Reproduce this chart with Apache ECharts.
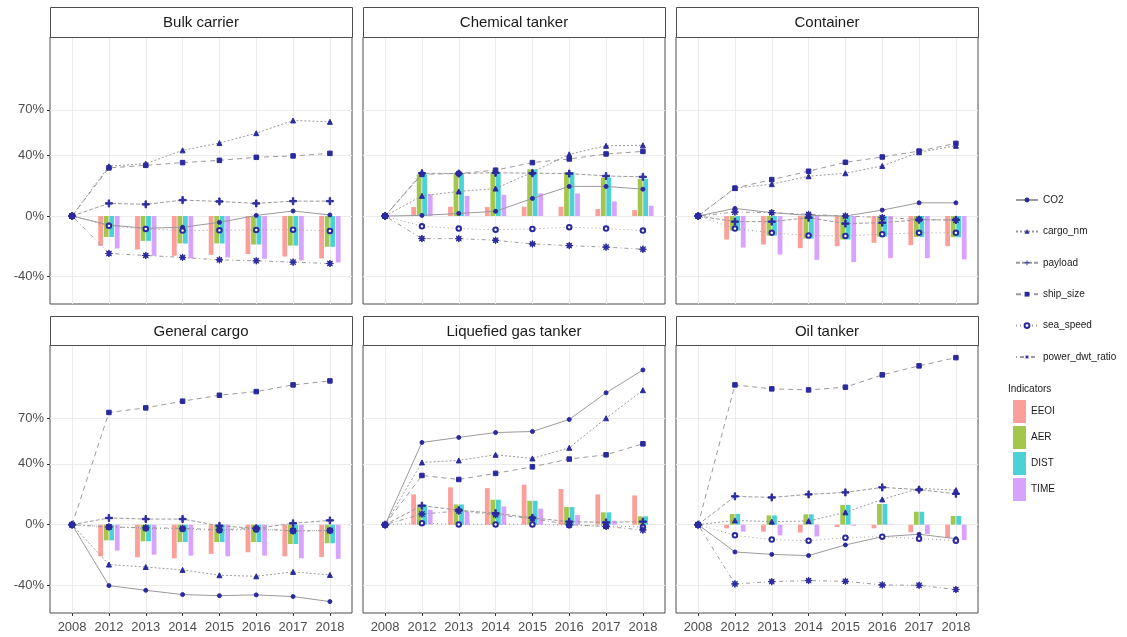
<!DOCTYPE html>
<html><head><meta charset="utf-8">
<script src="https://cdn.jsdelivr.net/npm/echarts@6/dist/echarts.min.js"></script>
<style>html,body{margin:0;padding:0;background:#fff}#chart{width:1127px;height:637px}</style>
</head><body><div id="chart"></div>
<script>
// ---------- data ----------
const years = ['2008','2012','2013','2014','2015','2016','2017','2018'];
const panelNames = ['Bulk carrier','Chemical tanker','Container','General cargo','Liquefied gas tanker','Oil tanker'];
const lineNames = ['CO2','cargo_nm','payload','ship_size','sea_speed','power_dwt_ratio'];
const barNames = ['EEOI','AER','DIST','TIME'];
const yTicks = [-40, 0, 40, 70];

// Bulk carrier
const bulkCO2     = [0,-5.9,-8.1,-7.4,-4.2,0.4,3.3,0.7];
const bulkCargo   = [0,32.8,34.5,43.3,48.1,54.6,63.0,62.1];
const bulkPayload = [0,8.3,7.7,10.5,9.6,8.3,9.8,9.8];
const bulkShip    = [0,31.7,33.4,35.2,36.7,38.7,39.6,41.3];
const bulkSpeed   = [0,-6.5,-8.5,-9.6,-9.4,-9.2,-9.0,-9.8];
const bulkPower   = [0,-24.7,-26.0,-27.3,-28.9,-29.5,-30.4,-31.3];
const bulkEEOI    = [0,-19.7,-22.1,-26.2,-25.6,-25.1,-26.7,-28.0];
const bulkAER     = [0,-13.8,-16.4,-18.1,-18.1,-18.8,-19.5,-20.3];
const bulkDIST    = [0,-13.8,-16.4,-18.1,-18.1,-18.8,-19.5,-20.3];
const bulkTIME    = [0,-21.4,-26.2,-28.0,-27.3,-28.2,-29.3,-30.6];

// Chemical tanker
const chemCO2     = [0,0.4,1.7,3.1,11.6,19.5,19.5,17.7];
const chemCargo   = [0,13.3,16.2,18.1,28.9,40.7,46.3,46.6];
const chemPayload = [0,28.2,28.0,28.5,28.2,28.0,26.4,25.8];
const chemShip    = [0,27.5,28.0,30.2,35.2,37.6,40.9,42.6];
const chemSpeed   = [0,-6.8,-8.3,-9.0,-8.5,-7.4,-8.3,-9.6];
const chemPower   = [0,-14.9,-14.9,-16.0,-18.4,-19.5,-20.5,-21.9];
const chemEEOI    = [0,5.9,6.1,5.9,6.1,6.1,4.6,3.9];
const chemAER     = [0,27.5,28.2,28.9,30.8,28.9,25.4,24.5];
const chemDIST    = [0,27.5,28.2,28.9,30.8,28.9,25.4,24.5];
const chemTIME    = [0,14.4,13.3,14.0,14.9,14.9,9.6,6.8];

// Container
const contCO2     = [0,5.0,2.2,0.4,0,3.9,8.7,8.7];
const contCargo   = [0,18.4,21.0,26.2,28.2,33.0,42.0,46.3];
const contPayload = [0,-3.7,-3.7,-1.1,-5.0,-4.4,-2.5,-2.5];
const contShip    = [0,18.4,24.0,29.5,35.4,38.9,42.8,47.9];
const contSpeed   = [0,-8.3,-11.1,-12.9,-13.1,-12.0,-11.1,-11.1];
const contPower   = [0,2.6,2.2,1.1,0,-1.0,-2.2,-2.8];
const contEEOI    = [0,-15.5,-18.8,-21.2,-19.9,-17.7,-19.2,-19.9];
const contAER     = [0,-9.6,-12.9,-14.9,-15.5,-13.6,-13.8,-14.0];
const contDIST    = [0,-9.6,-12.9,-14.9,-15.5,-13.6,-13.8,-14.0];
const contTIME    = [0,-20.8,-25.4,-28.9,-30.4,-27.8,-27.8,-28.6];

// General cargo
const genCO2      = [0,-40.0,-43.1,-45.9,-46.6,-46.1,-47.2,-50.5];
const genCargo    = [0,-26.2,-27.8,-29.7,-33.2,-33.9,-31.0,-33.0];
const genPayload  = [0,4.4,3.7,3.7,-0.7,-2.4,0.9,2.8];
const genShip     = [0,73.7,76.7,81.1,85.0,87.4,91.8,94.4];
const genSpeed    = [0,-1.5,-2.4,-2.8,-3.7,-3.1,-3.9,-3.9];
const genPower    = [0,-1.5,-2.0,-2.4,-3.3,-2.4,-4.2,-3.9];
const genEEOI     = [0,-20.8,-21.4,-22.1,-19.2,-18.1,-20.8,-21.2];
const genAER      = [0,-10.3,-10.9,-11.4,-11.4,-11.4,-12.7,-12.2];
const genDIST     = [0,-10.3,-10.9,-11.4,-11.4,-11.4,-12.7,-12.2];
const genTIME     = [0,-17.0,-19.7,-20.3,-20.8,-20.3,-22.1,-22.5];

// Liquefied gas tanker
const lngCO2      = [0,54.0,57.3,60.5,61.2,69.1,86.6,101.6];
const lngCargo    = [0,40.9,42.2,45.9,43.5,50.5,69.9,88.3];
const lngPayload  = [0,12.5,9.5,7.5,4.5,2.0,1.5,2.0];
const lngShip     = [0,32.3,29.7,33.7,38.0,43.1,45.9,53.1];
const lngSpeed    = [0,1.0,0.2,0.2,0.2,-0.3,-0.8,-1.5];
const lngPower    = [0,7.0,9.0,6.5,4.0,0,-1.2,-3.5];
const lngEEOI     = [0,19.9,24.5,24.0,26.2,23.4,19.9,19.2];
const lngAER      = [0,13.1,13.3,16.4,15.7,11.6,8.1,5.5];
const lngDIST     = [0,13.1,13.3,16.4,15.7,11.6,8.1,5.5];
const lngTIME     = [0,9.8,8.5,12.0,10.5,6.3,2.6,0.2];

// Oil tanker
const oilCO2      = [0,-17.9,-19.5,-20.3,-13.3,-7.9,-6.3,-9.2];
const oilCargo    = [0,2.8,2.0,2.4,8.1,16.6,23.8,22.7];
const oilPayload  = [0,18.6,17.9,19.9,21.2,24.5,23.0,20.3];
const oilShip     = [0,91.8,89.2,88.5,90.3,98.4,104.3,109.7];
const oilSpeed    = [0,-7.0,-9.8,-10.5,-8.5,-7.9,-9.2,-10.5];
const oilPower    = [0,-38.9,-37.4,-36.7,-37.2,-39.6,-39.8,-42.6];
const oilEEOI     = [0,-2.4,-4.6,-5.2,-1.5,-2.4,-5.0,-8.7];
const oilAER      = [0,7.0,6.1,6.8,12.9,13.6,8.5,5.7];
const oilDIST     = [0,7.0,6.1,6.8,12.9,13.6,8.5,5.7];
const oilTIME     = [0,-4.6,-7.0,-7.7,-0.7,-0.2,-6.1,-10.1];

// ---------- build ----------
const linesByPanel = [
  [bulkCO2,bulkCargo,bulkPayload,bulkShip,bulkSpeed,bulkPower],
  [chemCO2,chemCargo,chemPayload,chemShip,chemSpeed,chemPower],
  [contCO2,contCargo,contPayload,contShip,contSpeed,contPower],
  [genCO2,genCargo,genPayload,genShip,genSpeed,genPower],
  [lngCO2,lngCargo,lngPayload,lngShip,lngSpeed,lngPower],
  [oilCO2,oilCargo,oilPayload,oilShip,oilSpeed,oilPower]
];
const barsByPanel = [
  [bulkEEOI,bulkAER,bulkDIST,bulkTIME],
  [chemEEOI,chemAER,chemDIST,chemTIME],
  [contEEOI,contAER,contDIST,contTIME],
  [genEEOI,genAER,genDIST,genTIME],
  [lngEEOI,lngAER,lngDIST,lngTIME],
  [oilEEOI,oilAER,oilDIST,oilTIME]
];

const FONT = '"Liberation Sans", Arial, sans-serif';
const barColors = ['#FA9F99','#A3C64D','#4CD2D6','#D8A3FF'];
const markColor = '#2a2a9e';
const lineColor = '#9a9a9a';
const plusPath = 'path://M0.4,0H0.6V0.4H1V0.6H0.6V1H0.4V0.6H0V0.4H0.4Z';
const starPath = 'path://M1,0L1.172,0.584L1.707,0.293L1.416,0.828L2,1L1.416,1.172L1.707,1.707L1.172,1.416L1,2L0.828,1.416L0.293,1.707L0.584,1.172L0,1L0.584,0.828L0.293,0.293L0.828,0.584Z';
const lineStyles = [
  {symbol:'circle', size:4, dash:'solid'},
  {symbol:'triangle', size:5, dash:[2,2]},
  {symbol:plusPath, size:7, dash:[4,2]},
  {symbol:'rect', size:4.5, dash:[5,4]},
  {symbol:'emptyCircle', size:4.5, dash:[1,3]},
  {symbol:starPath, size:7, dash:[1,3,4,3]}
];

const colLeft = [50, 363, 676];
const rowTop = [37, 345];
const rowH = [267, 268];
const gridW = 302;

const grids = [], xAxes = [], yAxes = [], series = [], graphics = [];
const xIdx = years.map((y, i) => i);

for (let p = 0; p < 6; p++) {
  const r = Math.floor(p / 3), c = p % 3;
  grids.push({left: colLeft[c], top: rowTop[r], width: gridW, height: rowH[r],
    show: true, borderColor: '#4d4d4d', borderWidth: 1, backgroundColor: 'transparent', containLabel: false});
  xAxes.push({type: 'value', gridIndex: p, min: -0.6, max: 7.6, position: 'bottom',
    axisLine: {show: false, onZero: false}, splitLine: {show: false},
    axisTick: {show: r === 1, customValues: xIdx, length: 3, lineStyle: {color: '#333'}},
    axisLabel: {show: r === 1, customValues: xIdx, formatter: v => years[Math.round(v)] || '',
      color: '#4d4d4d', fontSize: 13, margin: 8, fontFamily: FONT}});
  yAxes.push({type: 'value', gridIndex: p, min: -58, max: 118, position: 'left',
    axisLine: {show: false, onZero: false}, splitLine: {show: false},
    axisTick: {show: c === 0, customValues: yTicks, length: 3, lineStyle: {color: '#333'}},
    axisLabel: {show: c === 0, customValues: yTicks, formatter: v => v + '%',
      color: '#4d4d4d', fontSize: 13, margin: 6, fontFamily: FONT}});

  // gridlines
  const ml = [];
  xIdx.forEach(i => ml.push({xAxis: i}));
  yTicks.forEach(v => ml.push({yAxis: v}));
  series.push({type: 'line', name: 'grid' + p, xAxisIndex: p, yAxisIndex: p, z: 0,
    data: [[0, 0]], symbol: 'none', lineStyle: {opacity: 0}, silent: true,
    markLine: {z: 0, silent: true, symbol: ['none','none'], label: {show: false},
      lineStyle: {color: '#ececec', width: 1, type: 'solid'}, emphasis: {disabled: true}, data: ml}});

  // bars
  barsByPanel[p].forEach((arr, k) => {
    series.push({type: 'custom', name: barNames[k], xAxisIndex: p, yAxisIndex: p, z: 2,
      itemStyle: {color: barColors[k]},
      data: arr.map((v, i) => [i, v]),
      encode: {x: 0, y: 1},
      renderItem: function (params, api) {
        const x = api.value(0), v = api.value(1);
        const off = (k - 1.5) * 0.15;
        const w = api.size([0.13, 0])[0];
        const p0 = api.coord([x + off, 0]);
        const p1 = api.coord([x + off, v]);
        return {type: 'rect', shape: {x: p0[0] - w / 2, y: Math.min(p0[1], p1[1]), width: w, height: Math.abs(p1[1] - p0[1])},
          style: {fill: barColors[k]}};
      }});
  });

  // lines
  linesByPanel[p].forEach((arr, k) => {
    const st = lineStyles[k];
    series.push({type: 'line', name: lineNames[k], xAxisIndex: p, yAxisIndex: p, z: 3,
      data: arr.map((v, i) => [i, v]),
      symbol: st.symbol, symbolSize: st.size, showSymbol: true,
      itemStyle: {color: markColor, borderColor: markColor},
      lineStyle: {color: lineColor, width: 1, type: st.dash},
      emphasis: {disabled: true}});
  });

  // strip header
  const sTop = r === 0 ? 7 : 316;
  const sH = rowTop[r] - sTop;
  graphics.push({type: 'rect', left: colLeft[c], top: sTop, shape: {width: gridW, height: sH},
    style: {fill: '#fff', stroke: '#4d4d4d', lineWidth: 1}, z: 10});
  graphics.push({type: 'text', x: colLeft[c] + gridW / 2, y: sTop + sH / 2 + 1, z: 11,
    style: {text: panelNames[p], fill: '#1a1a1a', font: '15px ' + FONT, align: 'center', verticalAlign: 'middle'}});
}

graphics.push({type: 'text', left: 1008, top: 384, z: 11,
  style: {text: 'Indicators', fill: '#1a1a1a', font: '10px ' + FONT}});

const option = {
  animation: false,
  textStyle: {fontFamily: FONT},
  grid: grids, xAxis: xAxes, yAxis: yAxes, series: series,
  legend: [
    {data: lineNames, orient: 'vertical', left: 1010, top: 190, itemWidth: 22, itemHeight: 6, itemGap: 21.4,
      textStyle: {fontSize: 10, color: '#1a1a1a', fontFamily: FONT}, selectedMode: false},
    {data: barNames, orient: 'vertical', left: 1008, top: 395, itemWidth: 13, itemHeight: 23, itemGap: 3,
      icon: 'rect', textStyle: {fontSize: 10, color: '#1a1a1a', fontFamily: FONT}, selectedMode: false}
  ],
  graphic: graphics
};
const chart = echarts.init(document.getElementById('chart'));
chart.setOption(option);
</script></body></html>
